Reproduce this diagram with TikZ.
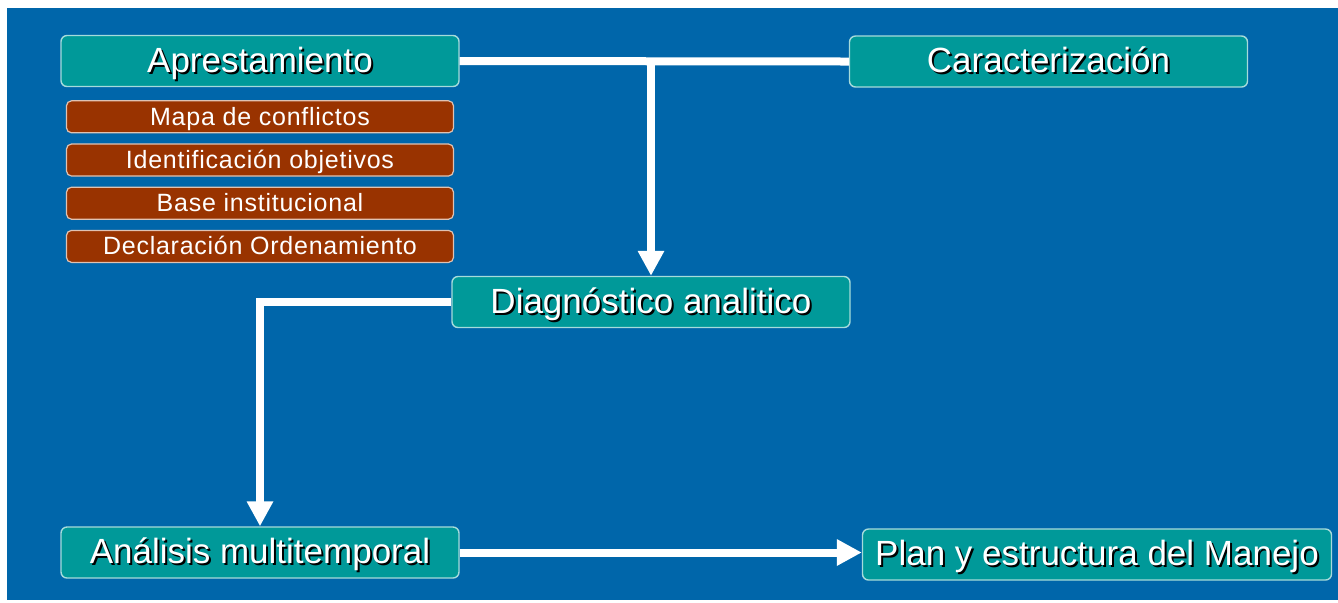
\documentclass[tikz,border=0pt]{standalone}
\usepackage{fontspec}
\setmainfont{Liberation Sans}
\usetikzlibrary{positioning,arrows.meta}
\definecolor{fondo}{RGB}{0,102,170}
\definecolor{verde}{RGB}{0,153,153}
\definecolor{ladrillo}{RGB}{153,51,0}
\newcommand{\sombra}[1]{\makebox[0pt][l]{\kern1pt\raisebox{-1pt}{\textcolor{black}{#1}}}#1}
\begin{document}
\begin{tikzpicture}[x=0.5pt, y=-0.5pt, node distance=5pt,
    main node/.style={rectangle, rounded corners=3pt, draw=white!65!verde, line width=0.7pt, fill=verde, text=white, minimum width=199pt, minimum height=25.5pt, inner sep=0pt, text height=14pt, text depth=3pt, font=\fontsize{17.5}{20}\selectfont},
    sub node/.style={rectangle, rounded corners=2.5pt, draw=white!70!ladrillo, line width=0.6pt, fill=ladrillo, text=white, minimum width=193.5pt, minimum height=16pt, inner sep=0pt, text height=10pt, text depth=1.5pt, font=\fontsize{12.5}{14}\selectfont\addfontfeature{LetterSpace=3}},
    flecha/.style={draw=white, line width=4pt, -{Triangle[width=12.5pt,length=12.5pt]}}]
  \useasboundingbox (0,0) rectangle (1338,602);
  \fill[fondo] (7,8) rectangle (1338,600);

  \node[main node] (apr) at (260,61) {\sombra{Aprestamiento}};
  \node[main node] (car) at (1048.5,61.5) {\sombra{Caracterización}};
  \node[main node] (diag) at (651,302) {\sombra{Diagnóstico analitico}};
  \node[main node] (ana) at (260,552.5) {\sombra{Análisis multitemporal}};
  \node[main node, minimum width=234.5pt] (plan) at (1097,554.5) {\sombra{Plan y estructura del Manejo}};

  \node[sub node] (mapa) [below=6.5pt of apr] {Mapa de conflictos};
  \node[sub node] (obj) [below=of mapa] {Identificación objetivos};
  \node[sub node] (base) [below=of obj] {Base institucional};
  \node[sub node] (decl) [below=of base] {Declaración Ordenamiento};

  \draw[white, line width=4pt] (apr.east) -- (car.west);
  \draw[flecha] (apr.east -| diag.north) -- (diag.north);
  \draw[flecha] (diag.west) -| (ana.north);
  \draw[flecha] (ana.east) -- (ana.east -| plan.west);
\end{tikzpicture}
\end{document}
